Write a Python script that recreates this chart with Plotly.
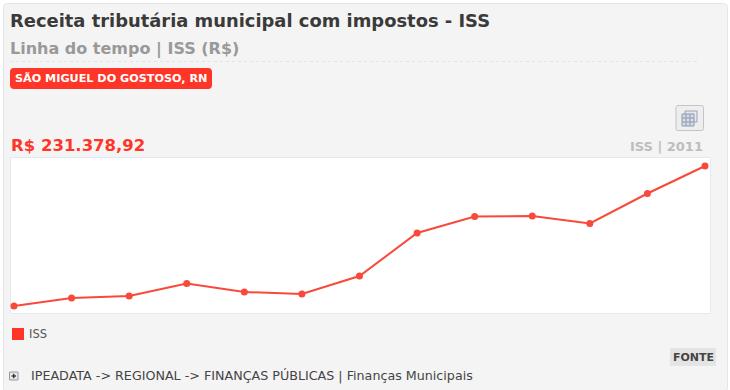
import plotly.graph_objects as go

W, H = 730, 390
years = [1999, 2000, 2001, 2002, 2003, 2004, 2005, 2006, 2007, 2008, 2009, 2010, 2011]
iss = [11000, 23600, 26800, 46400, 33000, 29900, 58200, 125900, 151900, 152700, 140900, 188100, 231378.92]
series_name = "ISS"
title = "Receita tributária municipal com impostos - ISS"
subtitle = "Linha do tempo | ISS (R$)"
place = "SÃO MIGUEL DO GOSTOSO, RN"
latest = "R$ 231.378,92"
latest_tag = "ISS | 2011"
source_btn = "FONTE"
breadcrumb = "IPEADATA -> REGIONAL -> FINANÇAS PÚBLICAS | Finanças Municipais"

RED = "#ff3527"
LINE = "#f8493a"
FONT = "DejaVu Sans"


def px(x):
    return x / W


def py(y):
    return 1 - y / H


def rrect(x0, y0, x1, y1, r, fill, line=None, lw=1):
    d = (f"M{px(x0+r)},{py(y0)} L{px(x1-r)},{py(y0)} Q{px(x1)},{py(y0)} {px(x1)},{py(y0+r)} "
         f"L{px(x1)},{py(y1-r)} Q{px(x1)},{py(y1)} {px(x1-r)},{py(y1)} "
         f"L{px(x0+r)},{py(y1)} Q{px(x0)},{py(y1)} {px(x0)},{py(y1-r)} "
         f"L{px(x0)},{py(y0+r)} Q{px(x0)},{py(y0)} {px(x0+r)},{py(y0)} Z")
    return dict(type="path", path=d, xref="paper", yref="paper", fillcolor=fill, layer="below",
                line=dict(color=line or fill, width=lw if line else 0))


def rect(x0, y0, x1, y1, fill, line=None, lw=1, layer="below"):
    return dict(type="rect", xref="paper", yref="paper", x0=px(x0), x1=px(x1), y0=py(y0), y1=py(y1),
                fillcolor=fill, layer=layer, line=dict(color=line or fill, width=lw if line else 0))


def seg(x0, y0, x1, y1, color, width=1, dash="solid"):
    return dict(type="line", xref="paper", yref="paper", x0=px(x0), x1=px(x1), y0=py(y0), y1=py(y1),
                layer="above", line=dict(color=color, width=width, dash=dash))


def text(x, y, s, size, color, anchor="left", bold=False):
    return dict(xref="paper", yref="paper", x=px(x), y=py(y), text=f"<b>{s}</b>" if bold else s,
                showarrow=False, xanchor=anchor, yanchor="middle",
                font=dict(family=FONT, size=size, color=color))


shapes = [
    rrect(3.5, 3.5, 727.5, 392, 4, "#f4f4f4", "#e6e6e6", 1),
    seg(10, 61.5, 700, 61.5, "#e2e2e2", 1, "dot"),
    rrect(10, 68, 212, 89, 4, RED),
    rrect(676, 105.5, 703.5, 130.5, 2, "#eeeeee", "#c4c4c4", 1),
    rect(685, 111, 697, 122, "#e4e8f0", "#9aa3b3", 1, "above"),
    rect(682, 114, 694, 126, "#d5dbe8", "#8f99ab", 1, "above"),
    seg(686, 114, 686, 126, "#8f99ab"),
    seg(690, 114, 690, 126, "#8f99ab"),
    seg(682, 118, 694, 118, "#8f99ab"),
    seg(682, 122, 694, 122, "#8f99ab"),
    rect(10.5, 157.5, 710.5, 313.5, "#ffffff", "#e4eaf0", 1),
    rect(12, 328, 24, 340, RED),
    rect(670, 348, 716, 366, "#e4e4e4"),
    rect(9.5, 372, 18, 380, "#e8e8e8", "#9a9a9a", 1),
    seg(11.5, 376, 16, 376, "#222222", 1.2),
    seg(13.75, 373.8, 13.75, 378.2, "#222222", 1.2),
]

annotations = [
    text(8, 20.5, title, 17.9, "#3a3a3a", bold=True),
    text(8, 49, subtitle, 16, "#999999", bold=True),
    text(13, 79, place, 11.2, "#ffffff", bold=True),
    text(9, 145.5, latest, 16.5, RED, bold=True),
    text(705, 146.5, latest_tag, 13, "#bdbdbd", "right", True),
    text(693, 357, source_btn, 11, "#444444", "center", True),
    text(27, 334, series_name, 11.5, "#555555"),
    text(29, 375.5, breadcrumb, 12.7, "#444444"),
]

fig = go.Figure()
fig.add_trace(go.Scatter(
    x=years, y=iss, mode="lines+markers", name=series_name, showlegend=False, cliponaxis=False,
    line=dict(color=LINE, width=2), marker=dict(color=LINE, size=7),
    hovertemplate="%{x}: R$ %{y:,.2f}<extra></extra>",
))

fig.update_layout(
    width=W, height=H, autosize=False,
    margin=dict(l=0, r=0, t=0, b=0),
    paper_bgcolor="#ffffff",
    plot_bgcolor="rgba(0,0,0,0)",
    font=dict(family=FONT),
    shapes=shapes,
    annotations=annotations,
    xaxis=dict(domain=[px(11), px(710)], range=[1998.948, 2011.087], visible=False, fixedrange=True),
    yaxis=dict(domain=[py(313), py(158)], range=[0, 244000], visible=False, fixedrange=True),
    hovermode="closest",
    showlegend=False,
)
fig.write_html("out.html", config=dict(displayModeBar=False),
               post_script="document.body.style.margin='0';document.body.style.overflow='hidden';")
